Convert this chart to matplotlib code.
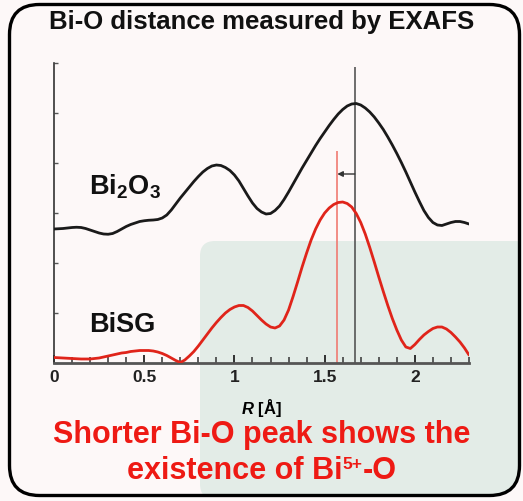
import matplotlib
matplotlib.use("Agg")
import matplotlib.pyplot as plt
from matplotlib.patches import FancyBboxPatch
from matplotlib.transforms import IdentityTransform
from matplotlib.ticker import MultipleLocator

plt.rcParams["font.family"] = ["Liberation Sans", "DejaVu Sans"]
plt.rcParams["mathtext.fontset"] = "custom"
plt.rcParams["mathtext.rm"] = "Liberation Sans:bold"
plt.rcParams["mathtext.bf"] = "Liberation Sans:bold"
plt.rcParams["mathtext.it"] = "Liberation Sans:italic:bold"
plt.rcParams["mathtext.default"] = "bf"

# Fourier-transformed EXAFS magnitude (arbitrary units, offset) vs R
r_values = [0.000, 0.025, 0.050, 0.075, 0.100, 0.125, 0.150, 0.175, 0.200,
            0.225, 0.250, 0.275, 0.300, 0.325, 0.350, 0.375, 0.400, 0.425,
            0.450, 0.475, 0.500, 0.525, 0.550, 0.575, 0.600, 0.625, 0.650,
            0.675, 0.700, 0.725, 0.750, 0.775, 0.800, 0.825, 0.850, 0.875,
            0.900, 0.925, 0.950, 0.975, 1.000, 1.025, 1.050, 1.075, 1.100,
            1.125, 1.150, 1.175, 1.200, 1.225, 1.250, 1.275, 1.300, 1.325,
            1.350, 1.375, 1.400, 1.425, 1.450, 1.475, 1.500, 1.525, 1.550,
            1.575, 1.600, 1.625, 1.650, 1.675, 1.700, 1.725, 1.750, 1.775,
            1.800, 1.825, 1.850, 1.875, 1.900, 1.925, 1.950, 1.975, 2.000,
            2.025, 2.050, 2.075, 2.100, 2.125, 2.150, 2.175, 2.200, 2.225,
            2.250, 2.275, 2.300]

bi2o3 = [2.68, 2.685, 2.69, 2.70, 2.71, 2.715, 2.71, 2.69, 2.66,
         2.63, 2.60, 2.58, 2.575, 2.59, 2.63, 2.68, 2.73, 2.77,
         2.80, 2.83, 2.845, 2.855, 2.86, 2.87, 2.90, 2.96, 3.06,
         3.18, 3.30, 3.41, 3.52, 3.63, 3.73, 3.82, 3.89, 3.94,
         3.96, 3.95, 3.91, 3.85, 3.76, 3.64, 3.49, 3.34, 3.20,
         3.09, 3.02, 2.98, 2.99, 3.05, 3.14, 3.27, 3.42, 3.58,
         3.74, 3.90, 4.05, 4.20, 4.35, 4.49, 4.62, 4.75, 4.87,
         4.98, 5.07, 5.14, 5.18, 5.19, 5.16, 5.10, 5.02, 4.92,
         4.80, 4.67, 4.52, 4.36, 4.19, 4.01, 3.82, 3.62, 3.42,
         3.23, 3.05, 2.91, 2.81, 2.76, 2.75, 2.78, 2.81, 2.83,
         2.83, 2.81, 2.78]

bisg = [0.11, 0.105, 0.10, 0.095, 0.09, 0.085, 0.08, 0.08, 0.08,
        0.09, 0.10, 0.12, 0.14, 0.16, 0.18, 0.20, 0.21, 0.23,
        0.24, 0.25, 0.25, 0.25, 0.24, 0.22, 0.19, 0.15, 0.10,
        0.05, 0.01, 0.06, 0.14, 0.23, 0.34, 0.46, 0.58, 0.70,
        0.81, 0.91, 1.00, 1.07, 1.12, 1.15, 1.15, 1.11, 1.04,
        0.95, 0.86, 0.78, 0.72, 0.70, 0.74, 0.86, 1.06, 1.33,
        1.62, 1.92, 2.20, 2.46, 2.68, 2.86, 3.00, 3.10, 3.17,
        3.21, 3.22, 3.19, 3.12, 2.99, 2.81, 2.58, 2.31, 2.02,
        1.72, 1.43, 1.15, 0.89, 0.66, 0.46, 0.32, 0.29, 0.37,
        0.47, 0.56, 0.63, 0.69, 0.72, 0.72, 0.68, 0.61, 0.52,
        0.42, 0.30, 0.16]

# Bi-O peak positions and marker heights
peak_bi2o3 = 1.667
peak_bisg = 1.57
peak_bi2o3_top = 5.92
peak_bisg_top = 4.24
shift_arrow_y = 3.78

x_ticks = [0, 0.5, 1, 1.5, 2]
x_tick_labels = ["0", "0.5", "1", "1.5", "2"]

W, H = 523, 502
fig = plt.figure(figsize=(W / 100, H / 100), dpi=100)
fig.patch.set_facecolor("#fdf8f8")

def fx(px):
    return px / W

def fy(py):
    return 1 - py / H

# Rounded outer frame (pixel coordinates, origin bottom-left)
frame = FancyBboxPatch((9.5, 5.5), 510, 491,
                       boxstyle="round,pad=0,rounding_size=30",
                       transform=IdentityTransform(), facecolor="none",
                       edgecolor="black", linewidth=2.4, zorder=5)

# Light green highlight panel behind the lower right of the plot
panel = FancyBboxPatch((200, 2), 330, 258,
                       boxstyle="round,pad=0,rounding_size=15",
                       transform=IdentityTransform(), facecolor="#e3ece7",
                       edgecolor="none", zorder=-1)
fig.add_artist(panel)
fig.add_artist(frame)
panel.set_clip_path(frame)

ax = fig.add_axes([fx(54), fy(364), fx(469) - fx(54), fy(64) - fy(364)])
ax.set_facecolor("none")
ax.set_xlim(0, 2.3)
ax.set_ylim(0, 6)

ax.plot(r_values, bi2o3, color="#1a1a1a", lw=2.0, solid_capstyle="round",
        solid_joinstyle="round", zorder=3)
ax.plot(r_values, bisg, color="#e0241a", lw=2.0, solid_capstyle="round",
        solid_joinstyle="round", zorder=3)

ax.vlines(peak_bi2o3, 0, peak_bi2o3_top, color="#555555", lw=1.2, zorder=2)
ax.vlines(peak_bisg, 0, peak_bisg_top, color="#f07a72", lw=1.2, zorder=2)
ax.annotate("", xy=(peak_bisg, shift_arrow_y),
            xytext=(peak_bi2o3, shift_arrow_y),
            arrowprops=dict(arrowstyle="-|>", color="#333333", lw=1.0,
                            mutation_scale=8, shrinkA=0, shrinkB=0),
            zorder=4)

for side in ("top", "right"):
    ax.spines[side].set_visible(False)
ax.spines["bottom"].set_color("#555555")
ax.spines["bottom"].set_linewidth(2.0)
ax.spines["left"].set_color("#333333")
ax.spines["left"].set_linewidth(1.2)

ax.set_xticks(x_ticks)
ax.set_xticklabels(x_tick_labels, fontsize=12.5, fontweight="bold")
ax.xaxis.set_minor_locator(MultipleLocator(0.1))
ax.tick_params(axis="x", which="major", direction="in", length=6, width=1.3,
               pad=4, colors="#222222")
ax.tick_params(axis="x", which="minor", direction="in", length=4, width=1.1,
               colors="#333333")
ax.yaxis.set_major_locator(MultipleLocator(1))
ax.tick_params(axis="y", which="major", direction="in", length=3, width=1.0,
               labelleft=False, colors="#555555")
ax.set_xlabel(r"$\mathit{R}$ [Å]", fontsize=12, fontweight="bold",
              labelpad=9)

fig.text(0.5, fy(22), "Bi-O distance measured by EXAFS", ha="center",
         va="center", fontsize=18.5, fontweight="bold", color="#111111")

fig.text(fx(89), fy(187), r"Bi$_2$O$_3$", ha="left", va="center",
         fontsize=19.5, fontweight="bold", color="#111111")
fig.text(fx(89), fy(325), "BiSG", ha="left", va="center",
         fontsize=19.5, fontweight="bold", color="#111111")

red_text = "#ee1a14"
fig.text(0.5, fy(435), "Shorter Bi-O peak shows the", ha="center",
         va="center", fontsize=22, fontweight="bold", color=red_text)

# Second line built from pieces so the small charge sits tight to "Bi"
renderer = fig.canvas.get_renderer()
line_y = fy(471)
parts = [("existence of Bi", 22, 0.0), ("5+", 12.5, 0.012), ("-O", 22, 0.0)]
artists = []
for txt, size, dy in parts:
    t = fig.text(0, line_y + dy, txt, ha="left", va="center",
                 fontsize=size, fontweight="bold", color=red_text)
    artists.append(t)
widths = [a.get_window_extent(renderer).width / W for a in artists]
x = 0.5 - sum(widths) / 2
for a, w in zip(artists, widths):
    a.set_x(x)
    x += w

fig.savefig("out.png", dpi=100, facecolor=fig.get_facecolor())
